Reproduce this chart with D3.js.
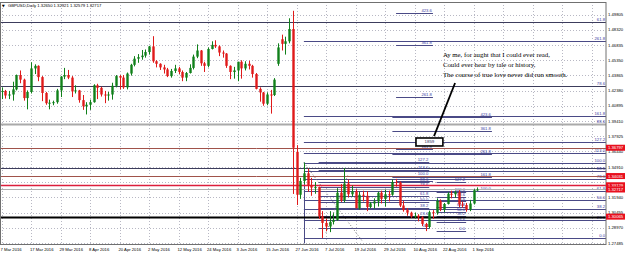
<!DOCTYPE html>
<html>
<head>
<meta charset="utf-8">
<script src="https://cdn.jsdelivr.net/npm/d3@7"></script>
<style>
html, body { margin: 0; padding: 0; background: #fff; }
svg { display: block; font-family: "Liberation Sans", Arial, sans-serif; }
</style>
</head>
<body>
<div id="chart"></div>
<script>
// GBPUSD daily bars, 7 Mar 2016 .. 2 Sep 2016, [open, high, low, close]
const ohlc = [
  [1.4225,1.4270,1.4155,1.4235],[1.4235,1.4245,1.4160,1.4190],[1.4190,1.4235,1.4155,1.4200],[1.4200,1.4325,1.4140,1.4250],
  [1.4250,1.4395,1.4240,1.4390],[1.4390,1.4435,1.4310,1.4345],[1.4345,1.4355,1.4140,1.4165],[1.4165,1.4240,1.4055,1.4225],
  [1.4225,1.4515,1.4210,1.4455],[1.4455,1.4495,1.4400,1.4480],[1.4480,1.4485,1.4330,1.4370],[1.4370,1.4380,1.4135,1.4215],
  [1.4215,1.4225,1.4100,1.4115],[1.4115,1.4150,1.4055,1.4120],[1.4120,1.4140,1.4095,1.4125],[1.4125,1.4255,1.4110,1.4240],
  [1.4240,1.4380,1.4175,1.4375],[1.4375,1.4460,1.4350,1.4390],[1.4390,1.4440,1.4350,1.4365],[1.4365,1.4380,1.4175,1.4230],
  [1.4230,1.4290,1.4210,1.4240],[1.4240,1.4245,1.4120,1.4145],[1.4145,1.4195,1.4050,1.4085],[1.4085,1.4125,1.4005,1.4100],
  [1.4100,1.4150,1.4050,1.4125],[1.4125,1.4300,1.4120,1.4290],[1.4290,1.4305,1.4155,1.4265],[1.4265,1.4275,1.4180,1.4200],
  [1.4200,1.4235,1.4115,1.4190],[1.4190,1.4225,1.4140,1.4200],[1.4200,1.4315,1.4150,1.4285],[1.4285,1.4390,1.4270,1.4380],
  [1.4380,1.4390,1.4250,1.4365],[1.4365,1.4390,1.4255,1.4270],[1.4270,1.4415,1.4250,1.4405],[1.4405,1.4500,1.4385,1.4490],
  [1.4490,1.4575,1.4475,1.4550],[1.4550,1.4595,1.4510,1.4565],[1.4565,1.4635,1.4540,1.4580],[1.4580,1.4640,1.4560,1.4615],
  [1.4615,1.4675,1.4590,1.4670],[1.4670,1.4770,1.4510,1.4525],[1.4525,1.4535,1.4465,1.4500],[1.4500,1.4505,1.4440,1.4465],
  [1.4465,1.4490,1.4405,1.4445],[1.4445,1.4460,1.4370,1.4380],[1.4380,1.4450,1.4365,1.4430],[1.4430,1.4490,1.4410,1.4455],
  [1.4455,1.4470,1.4400,1.4420],[1.4420,1.4435,1.4330,1.4365],[1.4365,1.4420,1.4330,1.4410],[1.4410,1.4495,1.4405,1.4460],
  [1.4460,1.4590,1.4445,1.4570],[1.4570,1.4690,1.4555,1.4630],[1.4630,1.4635,1.4480,1.4505],[1.4505,1.4520,1.4420,1.4480],
  [1.4480,1.4660,1.4465,1.4645],[1.4645,1.4720,1.4640,1.4685],[1.4685,1.4730,1.4655,1.4670],[1.4670,1.4680,1.4575,1.4610],
  [1.4610,1.4630,1.4560,1.4600],[1.4600,1.4605,1.4460,1.4480],[1.4480,1.4485,1.4350,1.4420],[1.4420,1.4470,1.4355,1.4435],
  [1.4435,1.4520,1.4330,1.4520],[1.4520,1.4535,1.4355,1.4455],[1.4455,1.4525,1.4435,1.4500],[1.4500,1.4530,1.4445,1.4480],
  [1.4480,1.4490,1.4365,1.4400],[1.4400,1.4410,1.4250,1.4255],[1.4255,1.4270,1.4130,1.4220],[1.4220,1.4225,1.4090,1.4110],
  [1.4110,1.4220,1.4095,1.4200],[1.4200,1.4245,1.4013,1.4195],[1.4195,1.4360,1.4185,1.4345],[1.4500,1.4700,1.4480,1.4660],
  [1.4740,1.4785,1.4630,1.4695],[1.4695,1.4765,1.4590,1.4720],[1.4720,1.4945,1.4700,1.4840],[1.4840,1.5018,1.3228,1.3680],
  [1.3640,1.3705,1.3120,1.3220],[1.3220,1.3385,1.3180,1.3355],[1.3355,1.3535,1.3325,1.3430],[1.3430,1.3475,1.3250,1.3315],
  [1.3315,1.3385,1.3210,1.3290],[1.3290,1.3345,1.3230,1.3295],[1.3295,1.3300,1.2985,1.3010],[1.3010,1.3060,1.2798,1.2945],
  [1.2945,1.2985,1.2865,1.2910],[1.2910,1.3060,1.2855,1.2955],[1.2955,1.3040,1.2930,1.2975],[1.2975,1.3285,1.2965,1.3240],
  [1.3240,1.3325,1.3150,1.3165],[1.3165,1.3480,1.3145,1.3330],[1.3330,1.3370,1.3195,1.3225],[1.3225,1.3310,1.3200,1.3255],
  [1.3255,1.3275,1.3085,1.3090],[1.3090,1.3250,1.3075,1.3220],[1.3220,1.3260,1.3155,1.3210],[1.3210,1.3255,1.3060,1.3100],
  [1.3100,1.3150,1.3090,1.3135],[1.3135,1.3185,1.3085,1.3155],[1.3155,1.3250,1.3105,1.3240],[1.3240,1.3260,1.3135,1.3180],
  [1.3180,1.3270,1.3105,1.3225],[1.3225,1.3260,1.3155,1.3220],[1.3220,1.3370,1.3210,1.3345],[1.3345,1.3375,1.3300,1.3340],
  [1.3340,1.3350,1.3100,1.3115],[1.3115,1.3160,1.3055,1.3070],[1.3070,1.3090,1.3015,1.3045],[1.3045,1.3055,1.2995,1.3010],
  [1.3010,1.3045,1.2990,1.3015],[1.3015,1.3030,1.2960,1.3000],[1.3000,1.3010,1.2915,1.2935],[1.2935,1.2945,1.2865,1.2905],
  [1.2905,1.3065,1.2890,1.3050],[1.3050,1.3070,1.2985,1.3045],[1.3045,1.3185,1.3025,1.3160],[1.3160,1.3175,1.3060,1.3075],
  [1.3075,1.3140,1.3050,1.3130],[1.3130,1.3245,1.3125,1.3230],[1.3230,1.3260,1.3185,1.3225],[1.3225,1.3260,1.3190,1.3245],
  [1.3245,1.3265,1.3100,1.3125],[1.3125,1.3155,1.3095,1.3120],[1.3120,1.3140,1.3055,1.3075],[1.3075,1.3170,1.3060,1.3135],
  [1.3135,1.3275,1.3125,1.3265],[1.32650,1.32921,1.32579,1.32717]
];

// date labels: [text, bar number]
const dateTicks = [
  ["7 Mar 2016",0],["17 Mar 2016",8],["29 Mar 2016",16],["8 Apr 2016",24],["20 Apr 2016",32],
  ["2 May 2016",40],["12 May 2016",48],["24 May 2016",56],["3 Jun 2016",64],["15 Jun 2016",72],
  ["27 Jun 2016",80],["7 Jul 2016",88],["19 Jul 2016",96],["29 Jul 2016",104],["10 Aug 2016",112],
  ["22 Aug 2016",120],["1 Sep 2016",128]
];
const futureTicks = [136, 144, 152, 160];
const priceTicks = ["1.49805","1.48320","1.46835","1.45350","1.43865","1.42380","1.40895","1.39410",
  "1.37925","1.36440","1.34910","1.33425","1.31940","1.30455","1.28970","1.27485"];

const title = "GBPUSD,Daily  1.32650 1.32921 1.32579 1.32717";

// horizontal price lines with a price tag on the axis
const priceLines = [
  { p: 1.36797, kind: "brown" },
  { p: 1.34031, kind: "brown" },
  { p: 1.33129, kind: "red" },
  { p: 1.32717, kind: "bid" },
  { p: 1.30065, kind: "black" }
];

// fibonacci objects: price at 0% and 100%, bar span, levels shown (labelled ones)
const fibs = [
  { p0: 1.72102, p100: 1.34862, from: -2, to: 164, kind: "dark", levels: [61.8, 78.6], plain: [100] },
  { p0: 1.72102, p100: 1.34862, from: -2, to: 164, kind: "gray", levels: [88.6], plain: [] },
  { p0: 1.2798, p100: 1.3535, from: 82, to: 164, kind: "fib", levels: [0, 23.6, 38.2, 50, 61.8, 78.6, 88.6, 100, 113, 127.2, 161.8, 261.8], plain: [] },
  { p0: 1.2895, p100: 1.3400, from: 86, to: 116, kind: "fib", levels: [0, 23.6, 38.2, 50, 61.8, 78.6, 88.6, 100, 113, 127.2], plain: [] },
  { p0: 1.2865, p100: 1.3245, from: 118, to: 126, kind: "fib", levels: [0, 23.6, 38.2, 50, 61.8, 78.6, 88.6, 100, 127.2], plain: [] },
  { p0: 1.3034, p100: 1.3257, from: 106, to: 133, kind: "fib", levels: [100, 161.8, 261.8, 361.8, 423.6], plain: [] },
  { p0: 1.2850, p100: 1.3357, from: 107, to: 117, kind: "fib", levels: [161.8, 261.8, 361.8, 423.6], plain: [100] }
];
// dotted trend lines of the fib tool: [bar, price, bar, price]
const fibTrends = [[82, 1.3535, 98, 1.2760], [88, 1.2850, 94, 1.3420]];
const fibAnchor = [82, 1.3535, 1.2745];

const noteLines = ["Ay me, for aught that I could ever read,",
  "Could ever hear by tale or history,",
  "The course of true love never did run smooth."];
const noteAt = [119.7, 1.4567];
const boxLabel = "1859";
const boxAt = [112.4, 119.7, 1.3775, 1.3697];
const arrow = [123, 1.4312, 117.3, 1.3794];

const W = 625, H = 255;
const plotR = 606, plotT = 2, plotB = 244;

const svg = d3.select("#chart").append("svg")
  .attr("width", W).attr("height", H);

const x = d3.scaleLinear().domain([0, 164]).range([1.5, 606.25]);
const y = d3.scaleLinear().domain([1.2739, 1.5104]).range([plotB, plotT]);

svg.append("clipPath").attr("id", "plot")
  .append("rect").attr("x", 0).attr("y", plotT).attr("width", plotR).attr("height", plotB - plotT);

const g = svg.append("g").attr("clip-path", "url(#plot)");

// grid
g.selectAll(".hg").data(priceTicks).enter().append("line")
  .attr("x1", 0).attr("x2", plotR)
  .attr("y1", d => Math.round(y(+d)) + 0.5).attr("y2", d => Math.round(y(+d)) + 0.5)
  .attr("stroke", "#b8b8c4").attr("stroke-dasharray", "1,2");
g.selectAll(".vg").data(dateTicks.map(d => d[1]).concat(futureTicks)).enter().append("line")
  .attr("x1", d => Math.round(x(d)) + 0.5).attr("x2", d => Math.round(x(d)) + 0.5)
  .attr("y1", plotT).attr("y2", plotB)
  .attr("stroke", "#b8b8c4").attr("stroke-dasharray", "1,2");

// fib levels
const fibColor = { dark: "#3c3c5c", gray: "#aaaaaa", fib: "#4a4a86" };
fibs.forEach(f => {
  f.levels.concat(f.plain).forEach(lv => {
    const p = f.p0 + (f.p100 - f.p0) * lv / 100;
    const yy = Math.round(y(p)) + 0.5;
    g.append("line")
      .attr("x1", x(f.from)).attr("x2", x(f.to))
      .attr("y1", yy).attr("y2", yy)
      .attr("stroke", fibColor[f.kind])
      .attr("stroke-width", f.kind === "gray" ? 2 : 1);
    if (f.plain.includes(lv)) return;
    g.append("text")
      .attr("x", Math.min(x(f.to), plotR) - 1).attr("y", yy - 1.2)
      .attr("text-anchor", "end")
      .attr("font-size", 4.2).attr("fill", "#3a3aa0")
      .text(lv.toFixed(1));
  });
});
g.selectAll(".tr").data(fibTrends).enter().append("line")
  .attr("x1", d => x(d[0])).attr("y1", d => y(d[1]))
  .attr("x2", d => x(d[2])).attr("y2", d => y(d[3]))
  .attr("stroke", "#777").attr("stroke-dasharray", "1,2");
g.append("line")
  .attr("x1", Math.round(x(fibAnchor[0])) + 0.5).attr("x2", Math.round(x(fibAnchor[0])) + 0.5)
  .attr("y1", y(fibAnchor[1])).attr("y2", y(fibAnchor[2]))
  .attr("stroke", "#4a4a86");

// price lines
const lineStyle = {
  brown: ["#a0524a", 1], red: ["#dc1e3c", 1.3], bid: ["#b0b0b0", 1], black: ["#000", 2]
};
g.selectAll(".pl").data(priceLines).enter().append("line")
  .attr("x1", 0).attr("x2", plotR)
  .attr("y1", d => Math.round(y(d.p)) + 0.5).attr("y2", d => Math.round(y(d.p)) + 0.5)
  .attr("stroke", d => lineStyle[d.kind][0])
  .attr("stroke-width", d => lineStyle[d.kind][1]);

// candles
const bars = g.selectAll(".c").data(ohlc).enter().append("g");
const col = d => d[3] >= d[0] ? "#10801a" : "#e01a1a";
bars.append("line")
  .attr("x1", (d, i) => Math.round(x(i)) + 0.5).attr("x2", (d, i) => Math.round(x(i)) + 0.5)
  .attr("y1", d => y(d[1])).attr("y2", d => y(d[2]))
  .attr("stroke", col);
bars.append("rect")
  .attr("x", (d, i) => Math.round(x(i)) - 0.7)
  .attr("width", 2.4)
  .attr("y", d => y(Math.max(d[0], d[3])))
  .attr("height", d => Math.max(1, Math.abs(y(d[0]) - y(d[3]))))
  .attr("fill", col);

// note text, box and arrow
const note = g.append("text")
  .attr("font-family", "'Liberation Serif', 'Times New Roman', serif")
  .attr("font-size", 6.8).attr("fill", "#000");
noteLines.forEach((t, i) => {
  note.append("tspan").attr("x", x(noteAt[0])).attr("y", y(noteAt[1]) + i * 10.2).text(t);
});
g.append("line")
  .attr("x1", x(arrow[0])).attr("y1", y(arrow[1]))
  .attr("x2", x(arrow[2])).attr("y2", y(arrow[3]))
  .attr("stroke", "#000").attr("stroke-width", 1.8);
g.append("rect")
  .attr("x", x(boxAt[0])).attr("y", y(boxAt[2]))
  .attr("width", x(boxAt[1]) - x(boxAt[0])).attr("height", y(boxAt[3]) - y(boxAt[2]))
  .attr("fill", "#fff").attr("stroke", "#000").attr("stroke-width", 1.6);
g.append("text")
  .attr("x", (x(boxAt[0]) + x(boxAt[1])) / 2).attr("y", (y(boxAt[2]) + y(boxAt[3])) / 2 + 1.5)
  .attr("text-anchor", "middle").attr("font-size", 4.4).attr("fill", "#2a2a60")
  .text(boxLabel);

// frame
svg.append("rect")
  .attr("x", 0.5).attr("y", plotT + 0.5).attr("width", plotR - 0.5).attr("height", plotB - plotT)
  .attr("fill", "none").attr("stroke", "#707070");

// price axis (labels hidden where a price tag covers them)
svg.selectAll(".pt")
  .data(priceTicks.filter(t => priceLines.every(l => Math.abs(y(+t) - y(l.p)) > 3.6)))
  .enter().append("text")
  .attr("x", plotR + 2).attr("y", d => y(+d) + 1.6)
  .attr("font-size", 4.2).attr("fill", "#000")
  .text(d => d);
const tags = svg.selectAll(".tag").data(priceLines).enter().append("g");
tags.append("rect")
  .attr("x", plotR).attr("y", d => y(d.p) - 3).attr("width", W - plotR).attr("height", 6)
  .attr("fill", "#e8101e");
tags.append("text")
  .attr("x", plotR + 2).attr("y", d => y(d.p) + 1.6)
  .attr("font-size", 4.2).attr("fill", "#fff")
  .text(d => d.p.toFixed(5));

// date axis
svg.selectAll(".dt").data(dateTicks).enter().append("text")
  .attr("x", d => x(d[1]) - 1).attr("y", 251)
  .attr("font-size", 4.2).attr("fill", "#000")
  .text(d => d[0]);

// title
svg.append("text").attr("x", 2).attr("y", 6.6)
  .attr("font-family", "'DejaVu Sans', sans-serif").attr("font-size", 3.6).text("\u25BC");
svg.append("text").attr("x", 8).attr("y", 6.6)
  .attr("font-size", 4.2).attr("fill", "#000").text(title);
</script>
</body>
</html>
